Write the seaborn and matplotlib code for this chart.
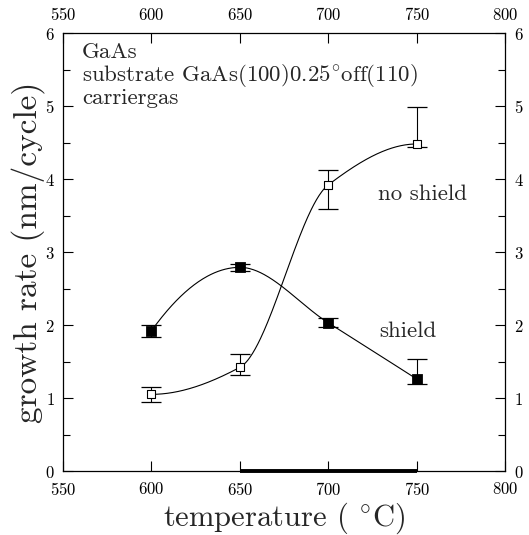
import numpy as np
import pandas as pd
import matplotlib
matplotlib.use("Agg")
import matplotlib.pyplot as plt
import seaborn as sns

# ---- data ----
temperature = [600, 650, 700, 750]
shield_rate = [1.92, 2.79, 2.03, 1.26]
shield_err_low = [0.08, 0.05, 0.06, 0.07]
shield_err_high = [0.08, 0.05, 0.07, 0.27]
noshield_rate = [1.05, 1.42, 3.92, 4.48]
noshield_err_low = [0.10, 0.11, 0.33, 0.04]
noshield_err_high = [0.10, 0.18, 0.20, 0.50]
thick_bar = [650, 750]
x_ticks = [550, 600, 650, 700, 750, 800]
y_ticks = [0, 1, 2, 3, 4, 5, 6]
annotation = ["GaAs", r"substrate GaAs(100)0.25$^{\circ}$off(110)", "carriergas"]


def pchip(x, y, xs):
    """Monotone (Fritsch-Carlson) cubic through the measured points."""
    x = np.asarray(x, float); y = np.asarray(y, float)
    h = np.diff(x); d = np.diff(y) / h
    n = len(x); m = np.zeros(n)
    for i in range(1, n - 1):
        if d[i - 1] * d[i] > 0:
            w1 = 2 * h[i] + h[i - 1]; w2 = h[i] + 2 * h[i - 1]
            m[i] = (w1 + w2) / (w1 / d[i - 1] + w2 / d[i])
    def end(h0, h1, d0, d1):
        v = ((2 * h0 + h1) * d0 - h0 * d1) / (h0 + h1)
        if np.sign(v) != np.sign(d0):
            v = 0.0
        elif np.sign(d0) != np.sign(d1) and abs(v) > abs(3 * d0):
            v = 3 * d0
        return v
    m[0] = end(h[0], h[1], d[0], d[1])
    m[-1] = end(h[-1], h[-2], d[-1], d[-2])
    out = np.empty_like(xs)
    for k, t in enumerate(xs):
        i = min(max(np.searchsorted(x, t) - 1, 0), n - 2)
        s = (t - x[i]) / h[i]
        h00 = 2 * s**3 - 3 * s**2 + 1; h10 = s**3 - 2 * s**2 + s
        h01 = -2 * s**3 + 3 * s**2; h11 = s**3 - s**2
        out[k] = h00 * y[i] + h10 * h[i] * m[i] + h01 * y[i + 1] + h11 * h[i] * m[i + 1]
    return out


sns.set_theme(style="ticks")
plt.rcParams["font.family"] = ["cmr10", "DejaVu Serif"]
plt.rcParams["axes.formatter.use_mathtext"] = True
plt.rcParams["mathtext.fontset"] = "cm"

fig = plt.figure(figsize=(5.29, 5.35), dpi=100)
ax = fig.add_axes([0.119, 0.1196, 0.836, 0.8187])

xs = np.linspace(temperature[0], temperature[-1], 300)
curves = pd.DataFrame({
    "T": np.concatenate([xs, xs]),
    "rate": np.concatenate([pchip(temperature, shield_rate, xs),
                            pchip(temperature, noshield_rate, xs)]),
    "series": ["shield"] * len(xs) + ["no shield"] * len(xs),
})
sns.lineplot(data=curves, x="T", y="rate", units="series", estimator=None,
             color="black", linewidth=0.8, ax=ax, legend=False)

ax.errorbar(temperature, shield_rate, yerr=[shield_err_low, shield_err_high],
            fmt="none", ecolor="black", elinewidth=0.8, capsize=7, capthick=0.9)
ax.errorbar(temperature, noshield_rate, yerr=[noshield_err_low, noshield_err_high],
            fmt="none", ecolor="black", elinewidth=0.8, capsize=7, capthick=0.9)

pts = pd.DataFrame({"T": temperature * 2,
                    "rate": shield_rate + noshield_rate,
                    "series": ["shield"] * 4 + ["no shield"] * 4})
sns.scatterplot(data=pts[pts.series == "shield"], x="T", y="rate", marker="s",
                s=50, color="black", edgecolor="black", ax=ax, zorder=5, legend=False)
sns.scatterplot(data=pts[pts.series == "no shield"], x="T", y="rate", marker="s",
                s=38, facecolor="white", edgecolor="black", linewidth=0.8,
                ax=ax, zorder=5, legend=False)

ax.plot(thick_bar, [0, 0], color="black", linewidth=2.8, clip_on=False,
        solid_capstyle="butt", zorder=6)

ax.set_xlim(550, 800)
ax.set_ylim(0, 6)
ax.set_xticks(x_ticks)
ax.set_yticks(y_ticks)
ax.set_yticks(np.arange(0.5, 6, 1.0), minor=True)
ax.tick_params(axis="both", which="both", direction="in", top=True, right=True,
               labeltop=True, labelright=True, labelsize=12, width=0.8,
               colors="black")
ax.tick_params(axis="x", which="both", pad=7)
ax.tick_params(axis="y", which="both", pad=6)
ax.tick_params(axis="both", which="major", length=7)
ax.tick_params(axis="both", which="minor", length=5)
for s in ax.spines.values():
    s.set_linewidth(0.9)
    s.set_color("black")

ax.set_xlabel(r"temperature ( $^{\circ}$C)", fontsize=22, labelpad=2)
ax.set_ylabel("growth rate (nm/cycle)", fontsize=24, labelpad=0)

for i, line in enumerate(annotation):
    ax.text(0.043, 0.957 - i * 0.053, line, transform=ax.transAxes,
            fontsize=16.5, ha="left", va="center")
ax.text(0.814, 0.632, "no shield", transform=ax.transAxes, fontsize=16.5,
        ha="center", va="center")
ax.text(0.78, 0.318, "shield", transform=ax.transAxes, fontsize=16.5,
        ha="center", va="center")

fig.savefig("out.png", dpi=100)
